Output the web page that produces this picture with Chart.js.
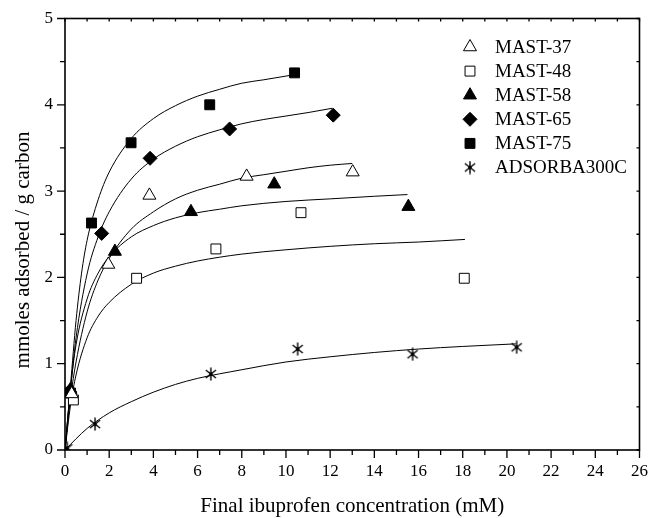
<!DOCTYPE html>
<html>
<head>
<meta charset="utf-8">
<script src="https://cdn.jsdelivr.net/npm/chart.js@4"></script>
<style>
  body { margin: 0; background: #fff; }
  canvas { display: block; }
</style>
</head>
<body>
<canvas id="chart" width="649" height="518"></canvas>
<script>
// --- measured points (concentration mM, mmoles/g) ---
const mast37X = [0.30, 1.96, 3.82, 8.22, 13.02];
const mast37Y = [0.65, 2.15, 2.95, 3.17, 3.22];
const mast48X = [0.38, 3.24, 6.83, 10.68, 18.07];
const mast48Y = [0.58, 1.99, 2.33, 2.75, 1.99];
const mast58X = [0.25, 2.26, 5.70, 9.47, 15.54];
const mast58Y = [0.70, 2.30, 2.76, 3.08, 2.82];
const mast65X = [0.20, 1.66, 3.85, 7.45, 12.14];
const mast65Y = [0.68, 2.51, 3.38, 3.72, 3.88];
const mast75X = [0.25, 1.20, 2.99, 6.55, 10.39];
const mast75Y = [0.66, 2.63, 3.56, 4.00, 4.37];
const adsX = [0.10, 1.36, 6.60, 10.53, 15.73, 20.44];
const adsY = [0.02, 0.30, 0.88, 1.17, 1.11, 1.19];

// --- fitted curves ---
const fit37X = [0, 0.25, 0.5, 1, 1.5, 2, 3, 4, 5, 6, 7, 8, 9, 10, 11, 12, 13];
const fit37Y = [0, 0.60, 1.02, 1.60, 1.97, 2.22, 2.56, 2.76, 2.91, 3.01, 3.08, 3.15, 3.19, 3.23, 3.27, 3.30, 3.32];
const fit48X = [0, 0.25, 0.5, 1, 1.5, 2, 3, 4, 5, 6, 8, 10, 12, 14, 16, 18.1];
const fit48Y = [0, 0.52, 0.87, 1.30, 1.55, 1.71, 1.92, 2.05, 2.13, 2.19, 2.27, 2.32, 2.36, 2.39, 2.41, 2.44];
const fit58X = [0, 0.25, 0.5, 1, 1.5, 2, 3, 4, 5, 6, 7, 8, 10, 12, 14, 15.5];
const fit58Y = [0, 0.72, 1.22, 1.75, 2.05, 2.24, 2.47, 2.60, 2.69, 2.75, 2.79, 2.83, 2.88, 2.91, 2.94, 2.96];
const fit65X = [0, 0.25, 0.5, 1, 1.5, 2, 3, 4, 5, 6, 7, 8, 9, 10, 11, 12.1];
const fit65Y = [0, 0.70, 1.30, 2.04, 2.47, 2.76, 3.14, 3.37, 3.52, 3.63, 3.71, 3.78, 3.83, 3.87, 3.91, 3.96];
const fit75X = [0, 0.25, 0.5, 0.75, 1, 1.5, 2, 3, 4, 5, 6, 7, 8, 9, 10.4];
const fit75Y = [0, 0.75, 1.50, 2.05, 2.43, 2.90, 3.22, 3.61, 3.84, 3.99, 4.10, 4.18, 4.25, 4.29, 4.35];
const fitAdsX = [0, 0.5, 1, 2, 3, 4, 5, 6, 8, 10, 12, 14, 16, 18, 20.4];
const fitAdsY = [0, 0.13, 0.25, 0.43, 0.56, 0.67, 0.76, 0.83, 0.93, 1.02, 1.08, 1.13, 1.17, 1.20, 1.23];

const xTicks = [0, 2, 4, 6, 8, 10, 12, 14, 16, 18, 20, 22, 24, 26];
const yTicks = [0, 1, 2, 3, 4, 5];

const FONT = '"Liberation Serif", "Times New Roman", serif';

const pts = (xs, ys) => xs.map((v, i) => ({ x: v, y: ys[i] }));

// six-ray asterisk used for ADSORBA300C
function makeStar(size) {
    const c = document.createElement('canvas');
    c.width = size; c.height = size;
    const g = c.getContext('2d');
    const r = size / 2 - 0.5, m = size / 2;
    g.strokeStyle = '#000';
    g.lineWidth = 1.4;
    g.beginPath();
    [90, 38, 142].forEach(deg => {
        const a = deg * Math.PI / 180;
        g.moveTo(m - Math.cos(a) * r, m - Math.sin(a) * r);
        g.lineTo(m + Math.cos(a) * r, m + Math.sin(a) * r);
    });
    g.stroke();
    g.fillStyle = '#000';
    g.beginPath(); g.arc(m, m, 1.8, 0, Math.PI * 2); g.fill();
    return c;
}
const star = makeStar(14);

function fitLine(xs, ys) {
    return {
        type: 'line', data: pts(xs, ys), borderColor: '#000', borderWidth: 1,
        pointRadius: 0, fill: false, cubicInterpolationMode: 'monotone', order: 2
    };
}
function marks(label, xs, ys, style, radius, fillCol) {
    return {
        type: 'scatter', label, data: pts(xs, ys), pointStyle: style, pointRadius: radius,
        pointBackgroundColor: fillCol, pointBorderColor: '#000', pointBorderWidth: 1, order: 1
    };
}

const series = [
    { label: 'MAST-37', style: 'triangle', r: 7.5, fill: '#fff' },
    { label: 'MAST-48', style: 'rect', r: 7, fill: '#fff' },
    { label: 'MAST-58', style: 'triangle', r: 7.5, fill: '#000' },
    { label: 'MAST-65', style: 'rectRot', r: 7, fill: '#000' },
    { label: 'MAST-75', style: 'rect', r: 7, fill: '#000' },
    { label: 'ADSORBA300C', style: star, r: 7, fill: '#000' }
];

// --- frame, ticks, titles and legend ---
const decor = {
    id: 'decor',
    afterDatasetsDraw(chart) {
        const { ctx, chartArea: a, scales: { x, y } } = chart;
        ctx.save();
        ctx.strokeStyle = '#000';
        ctx.lineWidth = 1.6;
        ctx.strokeRect(a.left, a.top, a.right - a.left, a.bottom - a.top);

        ctx.lineWidth = 1.3;
        ctx.beginPath();
        for (let v = x.min; v <= x.max; v++) {
            const px = x.getPixelForValue(v);
            const len = v % 2 === 0 ? 8 : 5;
            ctx.moveTo(px, a.bottom); ctx.lineTo(px, a.bottom + len);
            ctx.moveTo(px, a.top); ctx.lineTo(px, a.top + 3);
        }
        for (let v = y.min; v <= y.max; v += 0.5) {
            const py = y.getPixelForValue(v);
            const len = Number.isInteger(v) ? 8 : 5;
            ctx.moveTo(a.left, py); ctx.lineTo(a.left - len, py);
            ctx.moveTo(a.right, py); ctx.lineTo(a.right - 3, py);
        }
        ctx.stroke();

        // axis titles
        ctx.fillStyle = '#000';
        ctx.font = '21px ' + FONT;
        ctx.textAlign = 'center';
        ctx.textBaseline = 'middle';
        ctx.fillText('Final ibuprofen concentration (mM)', (a.left + a.right) / 2, 506);
        ctx.save();
        ctx.translate(23, 250);
        ctx.rotate(-Math.PI / 2);
        ctx.fillText('mmoles adsorbed / g carbon', 0, 0);
        ctx.restore();

        // legend
        ctx.font = '19px ' + FONT;
        ctx.textAlign = 'left';
        series.forEach((s, i) => {
            const cy = 47 + i * 24.1, cx = 470;
            ctx.fillStyle = s.fill;
            ctx.strokeStyle = '#000';
            ctx.lineWidth = 1;
            ctx.beginPath();
            if (s.style === 'triangle') {
                const r = s.r;
                ctx.moveTo(cx, cy - r);
                ctx.lineTo(cx + r * Math.sqrt(3) / 2, cy + r / 2);
                ctx.lineTo(cx - r * Math.sqrt(3) / 2, cy + r / 2);
                ctx.closePath();
                ctx.fill(); ctx.stroke();
            } else if (s.style === 'rect') {
                const h = s.r * Math.SQRT1_2;
                ctx.rect(cx - h, cy - h, 2 * h, 2 * h);
                ctx.fill(); ctx.stroke();
            } else if (s.style === 'rectRot') {
                const r = s.r;
                ctx.moveTo(cx, cy - r); ctx.lineTo(cx + r, cy);
                ctx.lineTo(cx, cy + r); ctx.lineTo(cx - r, cy);
                ctx.closePath();
                ctx.fill(); ctx.stroke();
            } else {
                ctx.drawImage(s.style, cx - s.style.width / 2, cy - s.style.height / 2);
            }
            ctx.fillStyle = '#000';
            ctx.fillText(s.label, 495, cy + 1);
        });
        ctx.restore();
    }
};

const allX = [mast37X, mast48X, mast58X, mast65X, mast75X, adsX];
const allY = [mast37Y, mast48Y, mast58Y, mast65Y, mast75Y, adsY];

new Chart(document.getElementById('chart'), {
    data: {
        datasets: [
            fitLine(fit37X, fit37Y),
            fitLine(fit48X, fit48Y),
            fitLine(fit58X, fit58Y),
            fitLine(fit65X, fit65Y),
            fitLine(fit75X, fit75Y),
            fitLine(fitAdsX, fitAdsY),
            ...series.map((s, i) => marks(s.label, allX[i], allY[i], s.style, s.r, s.fill))
        ]
    },
    options: {
        responsive: false,
        animation: false,
        layout: { padding: { top: 18.5, right: 9.5, left: 0, bottom: 0 } },
        plugins: { legend: { display: false }, tooltip: { enabled: false } },
        scales: {
            x: {
                type: 'linear', min: 0, max: 26,
                afterFit: s => { s.height = 68; s.paddingLeft = 0; s.paddingRight = 0; },
                afterBuildTicks: s => { s.ticks = xTicks.map(v => ({ value: v })); },
                grid: { display: false, drawTicks: false },
                border: { display: false },
                ticks: { color: '#000', padding: 11, font: { family: FONT, size: 17 } }
            },
            y: {
                type: 'linear', min: 0, max: 5,
                afterFit: s => { s.width = 65; s.paddingTop = 0; s.paddingBottom = 0; },
                afterBuildTicks: s => { s.ticks = yTicks.map(v => ({ value: v })); },
                grid: { display: false, drawTicks: false },
                border: { display: false },
                ticks: { color: '#000', padding: 12, font: { family: FONT, size: 17 } }
            }
        }
    },
    plugins: [decor]
});
</script>
</body>
</html>
